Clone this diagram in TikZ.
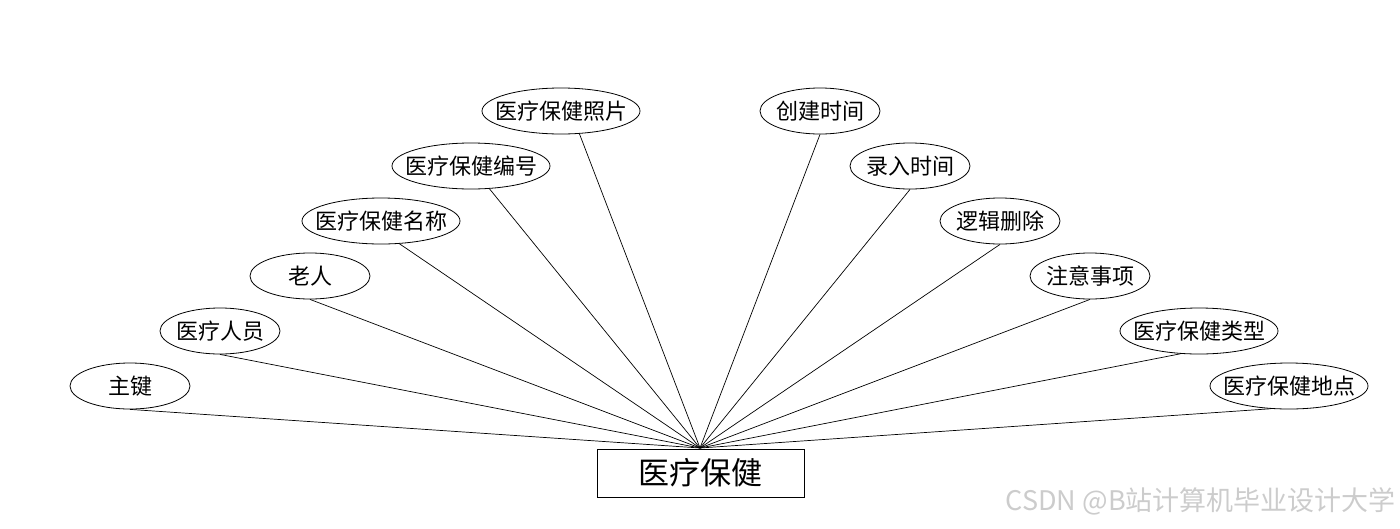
\documentclass[tikz,border=0pt]{standalone}
\usepackage{fontspec}
\newfontfamily\cjk{Noto Sans CJK SC}
\usetikzlibrary{shapes.geometric}
\newcommand\zw[1]{\makebox[0pt]{#1}}
\begin{document}
\begin{tikzpicture}[x=1pt,y=-1pt,
  attr/.style={ellipse,draw,line width=0.8pt,inner sep=0pt,minimum height=46pt,minimum width=120pt,font=\cjk\fontsize{22}{22}\selectfont},
  wattr/.style={attr,minimum width=158pt},
  ent/.style={rectangle,draw,line width=0.8pt,minimum width=207pt,minimum height=48pt,inner sep=0pt,font=\cjk\fontsize{31}{31}\selectfont},
  link/.style={line width=0.7pt}]
\useasboundingbox (0,0) rectangle (1400,528);
\node[ent] (c) at (700.5,473) {医疗保健};
\node[attr] (a1) at (130,386) {\zw{主键}};
\node[attr] (a2) at (220,331) {\zw{医疗人员}};
\node[attr] (a3) at (310,276) {\zw{老人}};
\node[wattr] (a4) at (381,221) {\zw{医疗保健名称}};
\node[wattr] (a5) at (471,166) {\zw{医疗保健编号}};
\node[wattr] (a6) at (561,111) {\zw{医疗保健照片}};
\node[attr] (b1) at (820,111) {\zw{创建时间}};
\node[attr] (b2) at (910,166) {\zw{录入时间}};
\node[attr] (b3) at (1000,221) {\zw{逻辑删除}};
\node[attr] (b4) at (1090,276) {\zw{注意事项}};
\node[wattr] (b5) at (1199,331) {\zw{医疗保健类型}};
\node[wattr] (b6) at (1289,386) {\zw{医疗保健地点}};
\coordinate (h) at (700,448);
\foreach \n in {a1,a2,a3,b1,b2,b3,b4} \draw[link] (\n.south) -- (h);
\foreach \n in {a4,a5,a6} \draw[link] (\n.-51) -- (h);
\foreach \n in {b5,b6} \draw[link] (\n.-129) -- (h);
\node[anchor=east,text=black!20,inner sep=0pt,font=\cjk\fontsize{27}{27}\selectfont] (wm) at (1396,501) {CSDN @B站计算机毕业设计大学};
\end{tikzpicture}
\end{document}
